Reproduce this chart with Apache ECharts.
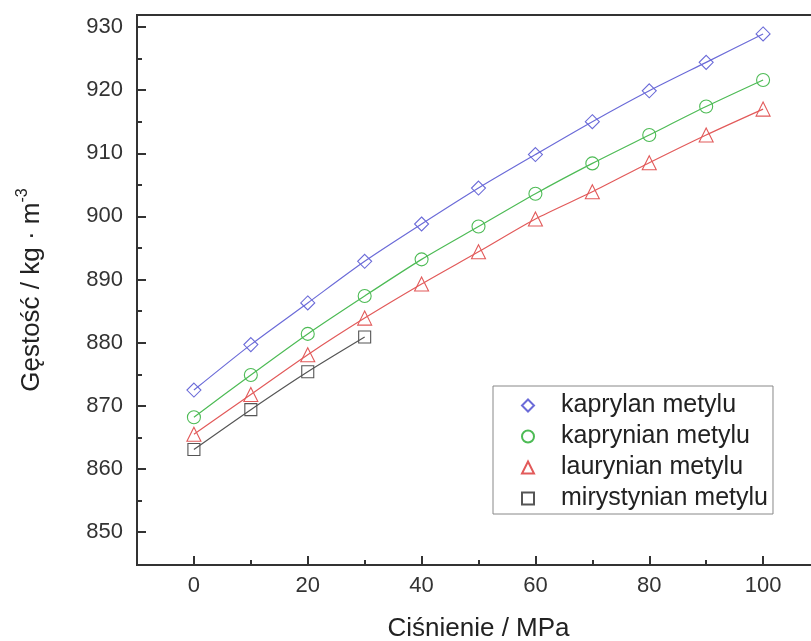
<!DOCTYPE html>
<html>
<head>
<meta charset="utf-8">
<script src="https://cdn.jsdelivr.net/npm/echarts@6/dist/echarts.min.js"></script>
<style>
  html, body { margin: 0; padding: 0; background: #fff; }
  #chart { width: 811px; height: 641px; }
</style>
</head>
<body>
<div id="chart"></div>
<script>
// Density of fatty acid methyl esters vs. pressure
const pressure = [0, 10, 20, 30, 40, 50, 60, 70, 80, 90, 100];
const kaprylan    = [872.5, 879.7, 886.3, 892.9, 898.8, 904.5, 909.8, 915.0, 919.9, 924.4, 928.9];
const kaprynian   = [868.2, 874.9, 881.4, 887.4, 893.2, 898.4, 903.6, 908.4, 912.9, 917.4, 921.6];
const laurynian   = [865.5, 871.8, 878.1, 883.9, 889.3, 894.4, 899.6, 903.9, 908.5, 912.9, 917.0];
const mirystynian = [863.1, 869.4, 875.4, 880.9];

const seriesNames = ['kaprylan metylu', 'kaprynian metylu', 'laurynian metylu', 'mirystynian metylu'];
const xMajorTicks = [0, 20, 40, 60, 80, 100];
const xMinorTicks = [10, 30, 50, 70, 90];
const yMajorTicks = [850, 860, 870, 880, 890, 900, 910, 920, 930];
const yMinorTicks = [855, 865, 875, 885, 895, 905, 915, 925];

const FONT = '"Liberation Sans", Arial, Helvetica, sans-serif';
const AXIS = '#333';
const colors = ['#6b6bd8', '#4dbb55', '#e25a5a', '#555555'];
const symbols = ['diamond', 'circle', 'triangle', 'rect'];
const symbolSizes = [14, 13, 14, 12];
const values = [kaprylan, kaprynian, laurynian, mirystynian];

const toPoints = (vals) => vals.map((v, i) => [pressure[i], v]);

const series = values.map((vals, k) => ({
  name: seriesNames[k],
  type: 'line',
  xAxisIndex: 0,
  yAxisIndex: 0,
  data: toPoints(vals),
  smooth: 0.25,
  symbol: symbols[k],
  symbolSize: symbolSizes[k],
  showAllSymbol: true,
  lineStyle: { color: colors[k], width: 1.2 },
  itemStyle: { color: 'rgba(255,255,255,0)', borderColor: colors[k], borderWidth: 1.1 },
  emphasis: { disabled: true },
  animation: false
}));

const chart = echarts.init(document.getElementById('chart'), null, { renderer: 'canvas' });

chart.setOption({
  backgroundColor: '#fff',
  animation: false,
  grid: {
    left: 137, top: 15, width: 683, height: 550,
    show: true, borderColor: AXIS, borderWidth: 2,
    containLabel: false, outerBoundsMode: 'none'
  },
  xAxis: [
    {
      type: 'value', min: -10, max: 110,
      axisLine: { onZero: false, lineStyle: { color: AXIS, width: 2 } },
      axisTick: { inside: true, length: 9, customValues: xMajorTicks, lineStyle: { color: AXIS, width: 2 } },
      axisLabel: { customValues: xMajorTicks, fontSize: 22, color: '#333', fontFamily: FONT, margin: 10 },
      splitLine: { show: false },
      name: 'Ciśnienie / MPa', nameLocation: 'middle', nameGap: 51,
      nameTextStyle: { fontSize: 26, color: '#222', fontFamily: FONT }
    },
    {
      type: 'value', min: -10, max: 110, position: 'bottom',
      axisLine: { show: false, onZero: false },
      axisTick: { inside: true, length: 5, customValues: xMinorTicks, lineStyle: { color: AXIS, width: 2 } },
      axisLabel: { show: false },
      splitLine: { show: false }
    }
  ],
  yAxis: [
    {
      type: 'value', min: 844.8, max: 931.9,
      axisLine: { onZero: false, lineStyle: { color: AXIS, width: 2 } },
      axisTick: { inside: true, length: 9, customValues: yMajorTicks, lineStyle: { color: AXIS, width: 2 } },
      axisLabel: { customValues: yMajorTicks, fontSize: 22, color: '#333', fontFamily: FONT, margin: 14 },
      splitLine: { show: false },
      name: '{t|Gęstość / kg · m}{s|-3}', nameLocation: 'middle', nameGap: 88,
      nameTextStyle: {
        color: '#222', fontFamily: FONT,
        rich: {
          t: { fontSize: 26, lineHeight: 34, color: '#222', fontFamily: FONT },
          s: { fontSize: 16, lineHeight: 16, verticalAlign: 'top', color: '#222', fontFamily: FONT }
        }
      }
    },
    {
      type: 'value', min: 844.8, max: 931.9, position: 'left',
      axisLine: { show: false, onZero: false },
      axisTick: { inside: true, length: 5, customValues: yMinorTicks, lineStyle: { color: AXIS, width: 2 } },
      axisLabel: { show: false },
      splitLine: { show: false }
    }
  ],
  legend: {
    orient: 'vertical',
    left: 493, top: 386,
    padding: [7, 5, 3, 28],
    itemGap: 6,
    itemWidth: 12, itemHeight: 12,
    symbolKeepAspect: true,
    borderColor: '#888', borderWidth: 1,
    selectedMode: false,
    textStyle: { fontSize: 25, lineHeight: 24, color: '#222', fontFamily: FONT, padding: [0, 0, 0, 22] },
    data: seriesNames.map((n, k) => ({ name: n, icon: symbols[k] }))
  },
  series: series
});
</script>
</body>
</html>
